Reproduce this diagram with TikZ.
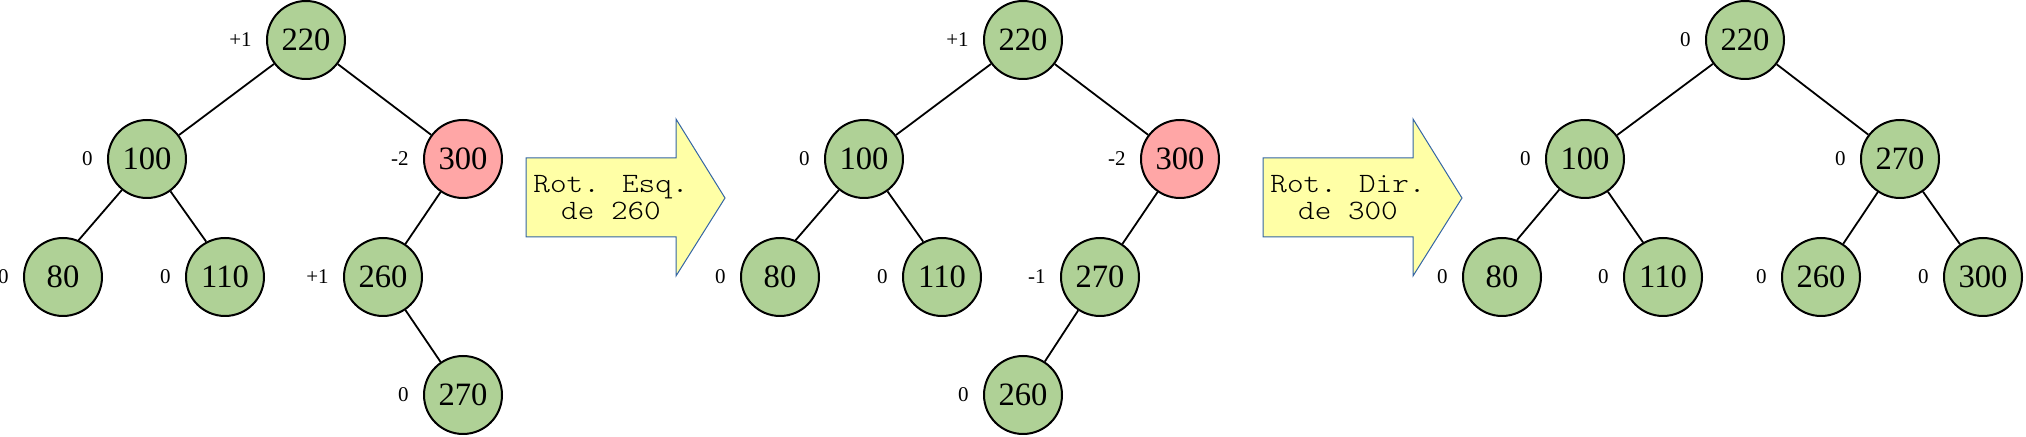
\documentclass[tikz,border=0pt]{standalone}
\usepackage{fontspec}
\setmainfont{Liberation Serif}
\newfontfamily\arrowmono[FakeStretch=1.13]{Latin Modern Mono Light}
\definecolor{nodegreen}{RGB}{175,209,150}
\definecolor{nodered}{RGB}{255,166,166}
\definecolor{arrowyellow}{RGB}{255,255,166}
\definecolor{arrowblue}{RGB}{52,101,164}
\begin{document}
\begin{tikzpicture}[x=0.5pt,y=-0.5pt,
  avl/.style={circle,draw=black,line width=1pt,fill=nodegreen,minimum size=39pt,inner sep=0pt,font=\fontsize{16.3}{18}\selectfont},
  hot/.style={avl,fill=nodered},
  bal/.style={font=\fontsize{10.5}{12}\selectfont,inner sep=0pt,anchor=east},
  edge/.style={draw=black,line width=0.9pt},
  rotarrow/.style={draw=arrowblue,line width=0.5pt,fill=arrowyellow,line join=miter},
  rottext/.style={font=\arrowmono\fontsize{14}{13.5}\selectfont,align=center,inner sep=0pt}]
\useasboundingbox (0,0) rectangle (2026,437);

% ---------- Tree 1 ----------
\node[avl] (a220) at (306,40) {220};
\node[avl] (a100) at (147,159) {100};
\node[hot] (a300) at (463,159) {300};
\node[avl] (a80)  at (63,277) {80};
\node[avl] (a110) at (225,277) {110};
\node[avl] (a260) at (383,277) {260};
\node[avl] (a270) at (463,395) {270};
\node[bal] (la220) at ([xshift=-7pt]a220.west) {+1};
\node[bal] (la100) at ([xshift=-7pt]a100.west) {0};
\node[bal] (la300) at ([xshift=-7pt]a300.west) {-2};
\node[bal] (la80)  at ([xshift=-7pt]a80.west) {0};
\node[bal] (la110) at ([xshift=-7pt]a110.west) {0};
\node[bal] (la260) at ([xshift=-7pt]a260.west) {+1};
\node[bal] (la270) at ([xshift=-7pt]a270.west) {0};
\path[edge] (a220) -- (a100);
\path[edge] (a220) -- (a300);
\path[edge] (a100.231) -- (a80.67);
\path[edge] (a100.306) -- (a110.118);
\path[edge] (a300) -- (a260);
\path[edge] (a260) -- (a270);

% ---------- Arrow 1 ----------
\path[rotarrow] (526,158) -- (676,158) -- (676,119) -- (725,198) -- (676,276) -- (676,237) -- (526,237) -- cycle;
\node[rottext] (r1) at (611,198) {Rot. Esq.\\de 260};

% ---------- Tree 2 ----------
\node[avl] (b220) at (1023,40) {220};
\node[avl] (b100) at (864,159) {100};
\node[hot] (b300) at (1180,159) {300};
\node[avl] (b80)  at (780,277) {80};
\node[avl] (b110) at (942,277) {110};
\node[avl] (b270) at (1100,277) {270};
\node[avl] (b260) at (1023,395) {260};
\node[bal] (lb220) at ([xshift=-7pt]b220.west) {+1};
\node[bal] (lb100) at ([xshift=-7pt]b100.west) {0};
\node[bal] (lb300) at ([xshift=-7pt]b300.west) {-2};
\node[bal] (lb80)  at ([xshift=-7pt]b80.west) {0};
\node[bal] (lb110) at ([xshift=-7pt]b110.west) {0};
\node[bal] (lb270) at ([xshift=-7pt]b270.west) {-1};
\node[bal] (lb260) at ([xshift=-7pt]b260.west) {0};
\path[edge] (b220) -- (b100);
\path[edge] (b220) -- (b300);
\path[edge] (b100.231) -- (b80.67);
\path[edge] (b100.306) -- (b110.118);
\path[edge] (b300) -- (b270);
\path[edge] (b270) -- (b260);

% ---------- Arrow 2 ----------
\path[rotarrow] (1263,158) -- (1413,158) -- (1413,119) -- (1462,198) -- (1413,276) -- (1413,237) -- (1263,237) -- cycle;
\node[rottext] (r2) at (1348,198) {Rot. Dir.\\de 300};

% ---------- Tree 3 ----------
\node[avl] (c220) at (1745,40) {220};
\node[avl] (c100) at (1585,159) {100};
\node[avl] (c270) at (1900,159) {270};
\node[avl] (c80)  at (1502,277) {80};
\node[avl] (c110) at (1663,277) {110};
\node[avl] (c260) at (1821,277) {260};
\node[avl] (c300) at (1983,277) {300};
\node[bal] (lc220) at ([xshift=-7pt]c220.west) {0};
\node[bal] (lc100) at ([xshift=-7pt]c100.west) {0};
\node[bal] (lc270) at ([xshift=-7pt]c270.west) {0};
\node[bal] (lc80)  at ([xshift=-7pt]c80.west) {0};
\node[bal] (lc110) at ([xshift=-7pt]c110.west) {0};
\node[bal] (lc260) at ([xshift=-7pt]c260.west) {0};
\node[bal] (lc300) at ([xshift=-7pt]c300.west) {0};
\path[edge] (c220) -- (c100);
\path[edge] (c220) -- (c270);
\path[edge] (c100.230) -- (c80.68);
\path[edge] (c100.305) -- (c110.120);
\path[edge] (c270) -- (c260);
\path[edge] (c270) -- (c300);
\end{tikzpicture}
\end{document}
